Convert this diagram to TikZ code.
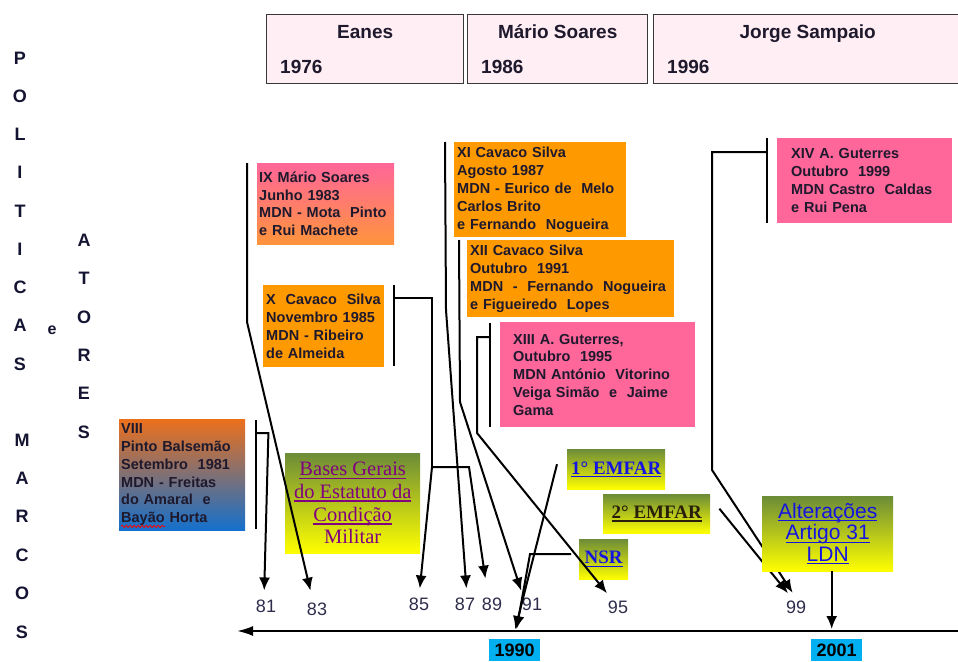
\documentclass[tikz,border=0pt]{standalone}
\usepackage{fontspec}
\newfontfamily\sansf{Liberation Sans}
\newfontfamily\serf{Liberation Serif}
\usetikzlibrary{calc,arrows.meta,decorations.pathmorphing}
\definecolor{presfill}{RGB}{255,238,243}
\definecolor{presline}{RGB}{55,55,60}
\definecolor{govorange}{RGB}{255,153,0}
\definecolor{govamber}{RGB}{255,148,60}
\definecolor{govpink}{RGB}{255,102,153}
\definecolor{viiitop}{RGB}{236,112,28}
\definecolor{viiibottom}{RGB}{20,112,205}
\definecolor{govtext}{RGB}{30,25,45}
\definecolor{lawgreen}{RGB}{108,140,55}
\definecolor{lawyellow}{RGB}{255,255,0}
\definecolor{lawpurple}{RGB}{128,0,128}
\definecolor{lawblue}{RGB}{20,20,225}
\definecolor{lawdark}{RGB}{40,30,10}
\definecolor{yearcyan}{RGB}{0,176,240}
\definecolor{yeartext}{RGB}{45,45,75}
\definecolor{lettertext}{RGB}{20,20,50}
% underline close to the baseline, keeps the line spacing
\newcommand{\ulin}[1]{\setbox0\hbox{#1}\rlap{\rule[-0.16em]{\wd0}{0.07em}}\box0}

\begin{document}
\begin{tikzpicture}[x=1pt,y=-1pt,
    pres/.style={draw=presline, line width=1.4pt, fill=presfill, anchor=north west, inner sep=0pt, minimum height=69pt},
    prestitle/.style={font=\sansf\bfseries\fontsize{19}{19}\selectfont, text=govtext, inner sep=0pt},
    govt/.style={anchor=north west, align=left, inner ysep=0pt, text=govtext, font=\sansf\bfseries\fontsize{14.5}{17.8}\selectfont},
    law/.style={anchor=north west, align=center, inner sep=0pt, top color=lawgreen, bottom color=lawyellow, font=\serf\fontsize{20.5}{22.7}\selectfont},
    letter/.style={font=\sansf\bfseries\fontsize{18}{18}\selectfont, text=lettertext, inner sep=1pt},
    yr/.style={font=\sansf\fontsize{18}{18}\selectfont, text=yeartext, inner sep=1pt},
    yrbox/.style={fill=yearcyan, anchor=north west, inner sep=0pt, minimum width=51pt, minimum height=22pt, font=\sansf\bfseries\fontsize{18}{18}\selectfont, text=black},
    link/.style={line width=2pt, black},
    arr/.style={link, -{Latex[length=13pt,width=11pt]}, shorten >=8pt},
  ]
    \useasboundingbox (0,0) rectangle (958,661);
    % Presidents
    \foreach \nm/\x/\w/\ttl/\yr in {eanes/266/197/{Eanes}/1976, soares/467/180/{Mário Soares}/1986, sampaio/653/308/{Jorge Sampaio}/1996} {
      \node[pres, minimum width=\w pt] (\nm) at (\x,14) {};
      \node[prestitle, anchor=base] (\nm-t) at ($(\nm.north)+(0,25)$) {\ttl};
      \node[prestitle, anchor=base west] (\nm-y) at ($(\nm.south west)+(14,-11)$) {\yr};
    }
    % Vertical words
    \foreach \ch [count=\i] in {P,O,L,I,T,I,C,A,S}
      \node[letter] (pol\i) at (20,{58+38.25*(\i-1)}) {\ch};
    \foreach \ch [count=\i] in {A,T,O,R,E,S}
      \node[letter] (ato\i) at (84,{240+38.4*(\i-1)}) {\ch};
    \foreach \ch [count=\i] in {M,A,R,C,O,S}
      \node[letter] (mar\i) at (22,{440+38.4*(\i-1)}) {\ch};
    \node[letter, font=\sansf\bfseries\fontsize{16}{16}\selectfont] (conj) at (52,330) {e};
    % Governments
    \node[govt, top color=viiitop, bottom color=viiibottom, text width=122pt, inner xsep=2pt, minimum height=111pt] (viii) at (119,419)
      {VIII\\Pinto Balsemão\\Setembro~ 1981\\MDN - Freitas\\do Amaral~ e\\Bayão Horta};
    \draw[red, line width=0.8pt, decorate, decoration={snake, amplitude=1.2pt, segment length=4pt}] ($(viii.south west)+(2,-4)$) -- ++(44,0);
    \node[govt, top color=govpink, bottom color=govamber, text width=133pt, inner xsep=2pt, minimum height=81pt] (ix) at (257,163)
      {IX Mário Soares\\Junho 1983\\MDN - Mota~ Pinto\\e Rui Machete};
    \node[govt, fill=govorange, text width=115pt, inner xsep=3pt, minimum height=82pt] (x) at (263,285)
      {X~ Cavaco~ Silva\\Novembro 1985\\MDN - Ribeiro\\de Almeida};
    \node[govt, fill=govorange, text width=166pt, inner xsep=3pt, minimum height=95pt] (xi) at (454,142)
      {XI Cavaco Silva\\Agosto 1987\\MDN - Eurico de~ Melo\\Carlos Brito\\e Fernando~ Nogueira};
    \node[govt, fill=govorange, text width=201pt, inner xsep=3pt, minimum height=77pt] (xii) at (467,240)
      {XII Cavaco Silva\\Outubro~ 1991\\MDN~ -~ Fernando~ Nogueira\\e Figueiredo~ Lopes};
    \node[govt, fill=govpink, text width=169pt, inner xsep=13pt, minimum height=105pt] (xiii) at (500,322)
      {XIII A. Guterres,\\Outubro~ 1995\\MDN António~ Vitorino\\Veiga Simão~ e~ Jaime\\Gama};
    \node[govt, fill=govpink, text width=147pt, inner xsep=14pt, minimum height=85pt] (xiv) at (777,138)
      {XIV A. Guterres\\Outubro~ 1999\\MDN Castro~ Caldas\\e Rui Pena};
    % Laws
    \node[law, text=lawpurple, minimum width=135pt, minimum height=100pt] (bases) at (285,453)
      {\ulin{Bases Gerais}\\\ulin{do Estatuto da}\\\ulin{Condição}\\Militar};
    \node[law, text=lawblue, font=\serf\bfseries\fontsize{19}{21}\selectfont, minimum width=98pt, minimum height=40pt] (emfar1) at (567,449) {\ulin{1° EMFAR}};
    \node[law, text=lawdark, font=\serf\bfseries\fontsize{19}{21}\selectfont, minimum width=107pt, minimum height=39pt] (emfar2) at (603,494) {\ulin{2° EMFAR}};
    \node[law, text=lawblue, font=\serf\bfseries\fontsize{19}{21}\selectfont, minimum width=49pt, minimum height=40pt] (nsr) at (579,539) {\ulin{NSR}};
    % Years
    \foreach \yy/\xx/\hh in {81/266/606, 83/317/609, 85/419/604, 87/465/604, 89/492/604, 91/532/604, 95/618/607, 99/796/607}
      \node[yr] (y\yy) at (\xx,\hh) {\yy};
    % Timeline
    \coordinate (tlr) at (958,631);
    \coordinate (tll) at (237,631);
    \draw[line width=2pt, -{Latex[length=16pt,width=10pt]}] (tlr) -- (tll);
    % Brackets and arrows
    \draw[link] ($(viii.north east)+(11,1)$) -- ($(viii.south east)+(11,-1)$);
    \draw[arr] ($(viii.north east)+(11,14)$) -- ++(12,0) -- ([xshift=-2pt]y81.north);
    \draw[arr, shorten >=11pt] ($(ix.north west)+(-10,0)$) -- ++(0,159) -- ([xshift=-4pt]y83.north);
    \draw[link] ($(x.north east)+(10,0)$) -- ($(x.south east)+(10,-1)$);
    \coordinate (xfork) at (432,467);
    \draw[link] ($(x.north east)+(10,13)$) -| (xfork);
    \draw[arr] (xfork) -- (y85.north);
    \draw[arr, shorten >=18pt] (xfork) -- ++(37,0) -- ([xshift=-4pt]y89.north);
    \draw[arr] ($(xi.north west)+(-9,0)$) -- ++(1,168) -- ([xshift=2pt]y87.north);
    \draw[arr, shorten >=6pt] ($(xii.north west)+(-8,0)$) -- ++(1,162) -- ([xshift=-9pt]y91.north);
    \draw[link] ($(xiii.north west)+(-10,1)$) -- ($(xiii.south west)+(-10,0)$);
    \draw[arr] ($(xiii.north west)+(-10,15)$) -- ++(-13,0) -- ++(0,96) -- ([xshift=-6pt]y95.north);
    \draw[link] ($(xiv.north west)+(-10,0)$) -- ($(xiv.south west)+(-10,0)$);
    \draw[arr] ($(xiv.north west)+(-10,14)$) -- ++(-55,0) -- ++(0,318) -- ([xshift=1pt]y99.north);
    \draw[arr] ($(emfar2.east)+(9,-5)$) -- ([xshift=-3pt]y99.north);
    % Year boxes
    \node[yrbox] (b1990) at (489,639) {1990};
    \node[yrbox] (b2001) at (811,639) {2001};
    \draw[arr, shorten >=10pt] ($(emfar1.west)+(-10,-5)$) -- ([xshift=-2pt]b1990.north);
    \draw[arr, shorten >=10pt] ($(nsr.west)+(-8,-5)$) -- ++(-41,0) -- (b1990.north);
    % LDN on top of the lines
    \node[law, text=lawblue, font=\sansf\fontsize{21}{21.5}\selectfont, minimum width=131pt, minimum height=75pt] (ldn) at (762,496)
      {\ulin{Alterações}\\\ulin{Artigo 31}\\\ulin{LDN}};
    \coordinate (ldnfoot) at ($(ldn.south)+(4,0)$);
    \draw[arr, shorten >=2pt] (ldnfoot) -- (ldnfoot |- tlr);
  \end{tikzpicture}
\end{document}
